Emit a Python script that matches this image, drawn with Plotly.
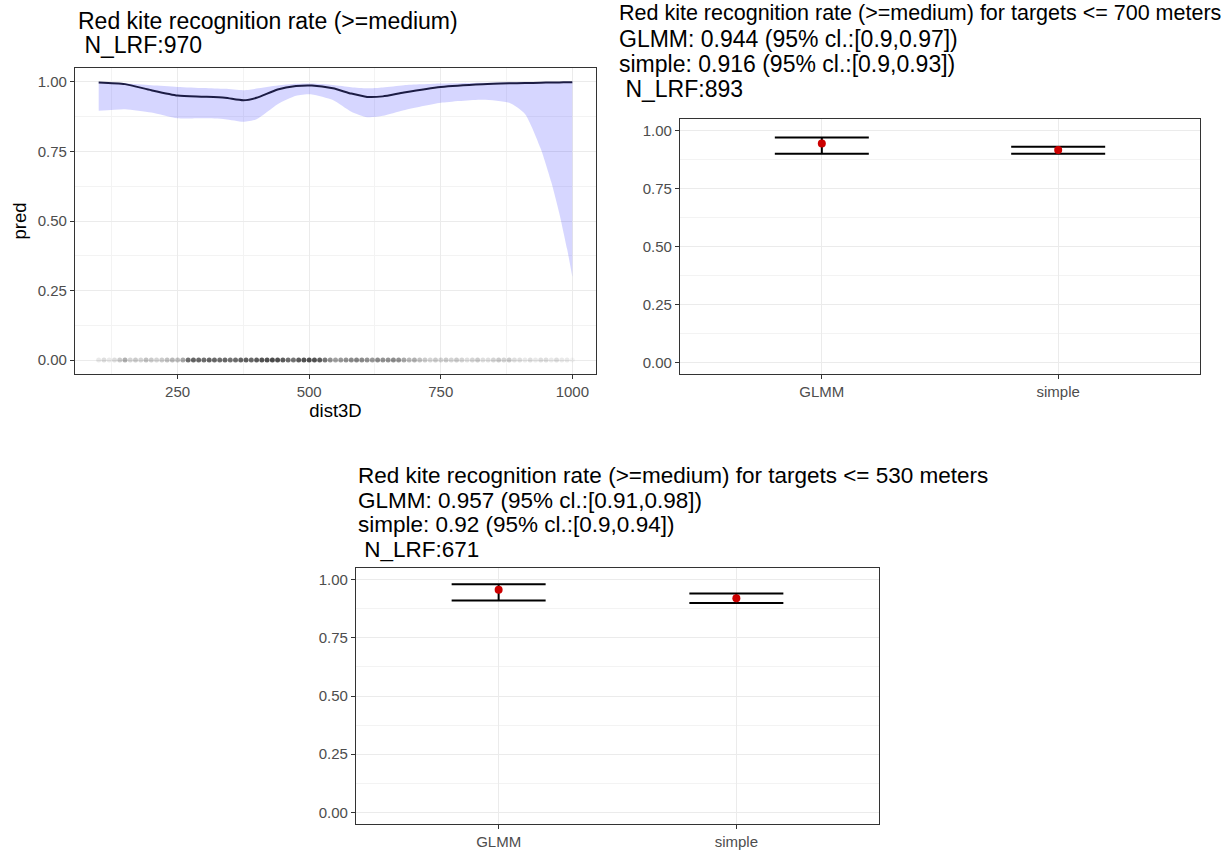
import plotly.graph_objects as go

W, H = 1221, 852

# ---------------- Panel 1 data (smooth prediction vs distance) ----------------
dist3d = [100, 150, 200, 250, 300, 340, 375, 400, 440, 475, 505, 545, 580, 610,
          640, 680, 750, 830, 880, 910, 940, 960, 975, 990, 1000]
pred = [0.998, 0.992, 0.970, 0.951, 0.947, 0.943, 0.934, 0.943, 0.973, 0.985,
        0.987, 0.977, 0.958, 0.946, 0.948, 0.962, 0.982, 0.992, 0.995, 0.996,
        0.997, 0.998, 0.998, 0.999, 0.999]
pred_lower = [0.896, 0.902, 0.890, 0.869, 0.869, 0.866, 0.857, 0.866, 0.920, 0.950,
              0.955, 0.935, 0.893, 0.873, 0.878, 0.898, 0.925, 0.936, 0.925, 0.885,
              0.760, 0.640, 0.530, 0.400, 0.300]
pred_upper = [0.999, 0.995, 0.988, 0.982, 0.978, 0.975, 0.970, 0.976, 0.987, 0.993,
              0.994, 0.989, 0.981, 0.977, 0.980, 0.988, 0.994, 0.997, 0.998, 0.999,
              0.999, 0.999, 0.999, 0.999, 1.000]

# observations along the rug at pred = 0 (binned positions and counts)
rug_x = list(range(100, 1001, 10))
rug_n = [2, 3, 2, 3, 5, 8, 4, 5, 4, 6, 5, 4, 5, 6, 7, 6, 9, 18, 20, 19,
         18, 20, 19, 18, 19, 17, 18, 20, 21, 19, 22, 24, 25, 26, 25, 22, 18, 17, 22, 24,
         25, 24, 22, 16, 12, 10, 11, 12, 13, 14, 13, 12, 11, 13, 12, 12, 13, 12, 9, 7,
         8, 6, 5, 4, 5, 4, 5, 4, 5, 4, 3, 4, 5, 3, 3, 4, 5, 4, 5, 3,
         3, 2, 3, 2, 3, 3, 2, 3, 2, 2, 1]

x1_ticks = [250, 500, 750, 1000]
y_ticks = [0.0, 0.25, 0.5, 0.75, 1.0]

# ---------------- Panels 2 and 3 data ----------------
methods = ["GLMM", "simple"]
est_700 = [0.944, 0.916]
low_700 = [0.90, 0.90]
high_700 = [0.97, 0.93]
est_530 = [0.957, 0.92]
low_530 = [0.91, 0.90]
high_530 = [0.98, 0.94]

title1 = ["Red kite recognition rate (>=medium)", "\u00a0N_LRF:970"]
title2 = ["Red kite recognition rate (>=medium) for targets <= 700 meters",
          "GLMM: 0.944 (95% cl.:[0.9,0.97])",
          "simple: 0.916 (95% cl.:[0.9,0.93])",
          "\u00a0N_LRF:893"]
title3 = ["Red kite recognition rate (>=medium) for targets <= 530 meters",
          "GLMM: 0.957 (95% cl.:[0.91,0.98])",
          "simple: 0.92 (95% cl.:[0.9,0.94])",
          "\u00a0N_LRF:671"]

FONT = "Liberation Sans, Arial, sans-serif"


def px_x(p):
    return p / W


def px_y(p):
    return 1 - p / H


fig = go.Figure()

# ribbon
fig.add_trace(go.Scatter(x=dist3d, y=pred_upper, mode="lines", line=dict(width=0, shape="spline", smoothing=0.6),
                         hoverinfo="skip", showlegend=False, xaxis="x", yaxis="y"))
fig.add_trace(go.Scatter(x=dist3d, y=pred_lower, mode="lines", line=dict(width=0, shape="spline", smoothing=0.6),
                         fill="tonexty", fillcolor="rgba(0,0,255,0.16)", hoverinfo="skip",
                         showlegend=False, xaxis="x", yaxis="y"))
# rug points
alpha_each = 0.045
rug_op = [1 - (1 - alpha_each) ** n for n in rug_n]
fig.add_trace(go.Scatter(x=rug_x, y=[0] * len(rug_x), mode="markers",
                         marker=dict(color="black", size=5, opacity=rug_op, line=dict(width=0)),
                         showlegend=False, xaxis="x", yaxis="y"))
# prediction line
fig.add_trace(go.Scatter(x=dist3d, y=pred, mode="lines",
                         line=dict(color="#1c1c44", width=2, shape="spline", smoothing=0.6),
                         showlegend=False, xaxis="x", yaxis="y"))

# error bar panels
cat_pos = [1, 2]
for est, lo, hi, xa, ya in [(est_700, low_700, high_700, "x2", "y2"),
                            (est_530, low_530, high_530, "x3", "y3")]:
    fig.add_trace(go.Scatter(
        x=cat_pos, y=est, mode="markers",
        marker=dict(color="#CC0000", size=8),
        error_y=dict(type="data", symmetric=False,
                     array=[h - e for h, e in zip(hi, est)],
                     arrayminus=[e - l for e, l in zip(est, lo)],
                     color="black", thickness=2, width=47),
        showlegend=False, xaxis=xa, yaxis=ya))

grid_major = "#EBEBEB"
grid_minor = "#F3F3F3"
border = "#333333"
tickfont = dict(family=FONT, size=15, color="#4D4D4D")

common_axis = dict(showline=True, linecolor=border, linewidth=1.2, mirror=True,
                   ticks="outside", ticklen=4, tickcolor=border, tickwidth=1,
                   zeroline=False, gridcolor=grid_major, gridwidth=1.2,
                   tickfont=tickfont)

yaxis_common = dict(common_axis, range=[-0.05, 1.05], tickvals=y_ticks,
                    tickformat=".2f",
                    minor=dict(showgrid=True, gridcolor=grid_minor, gridwidth=1,
                               tickvals=[0.125, 0.375, 0.625, 0.875], ticks=""))

fig.update_layout(
    width=W, height=H, autosize=False,
    margin=dict(l=0, r=0, t=0, b=0),
    paper_bgcolor="white", plot_bgcolor="white",
    font=dict(family=FONT),
    xaxis=dict(common_axis, domain=[px_x(75), px_x(596)], range=[55, 1045],
               tickvals=x1_ticks, anchor="y",
               minor=dict(showgrid=True, gridcolor=grid_minor, gridwidth=1,
                          tickvals=[125, 375, 625, 875], ticks=""),
               title=dict(text="dist3D", font=dict(family=FONT, size=18.5, color="black"), standoff=4)),
    yaxis=dict(yaxis_common, domain=[px_y(374), px_y(68)], anchor="x",
               title=dict(text="pred", font=dict(family=FONT, size=18.5, color="black"), standoff=6)),
    xaxis2=dict(common_axis, domain=[px_x(680), px_x(1200)], range=[0.4, 2.6],
                tickvals=cat_pos, ticktext=methods, anchor="y2"),
    yaxis2=dict(yaxis_common, domain=[px_y(374), px_y(119)], anchor="x2"),
    xaxis3=dict(common_axis, domain=[px_x(356), px_x(879)], range=[0.4, 2.6],
                tickvals=cat_pos, ticktext=methods, anchor="y3"),
    yaxis3=dict(yaxis_common, domain=[px_y(824), px_y(568)], anchor="x3"),
)

annotations = []


def add_title(lines, x0, y_centers, sizes):
    for txt, yc, sz in zip(lines, y_centers, sizes):
        annotations.append(dict(text=txt, xref="paper", yref="paper",
                                x=px_x(x0), y=px_y(yc), xanchor="left", yanchor="middle",
                                showarrow=False, align="left",
                                font=dict(family=FONT, size=sz, color="black")))


add_title(title1, 76, [21, 45], [23, 23])
add_title(title2, 617, [13, 39, 64, 89], [21.5, 23, 23, 23])
add_title(title3, 356, [475, 500, 524.5, 549], [22.5, 22.5, 22.5, 22.5])
fig.update_layout(annotations=annotations)

fig.write_html("out.html", config={"displayModeBar": False},
               post_script="document.body.style.margin='0';")
